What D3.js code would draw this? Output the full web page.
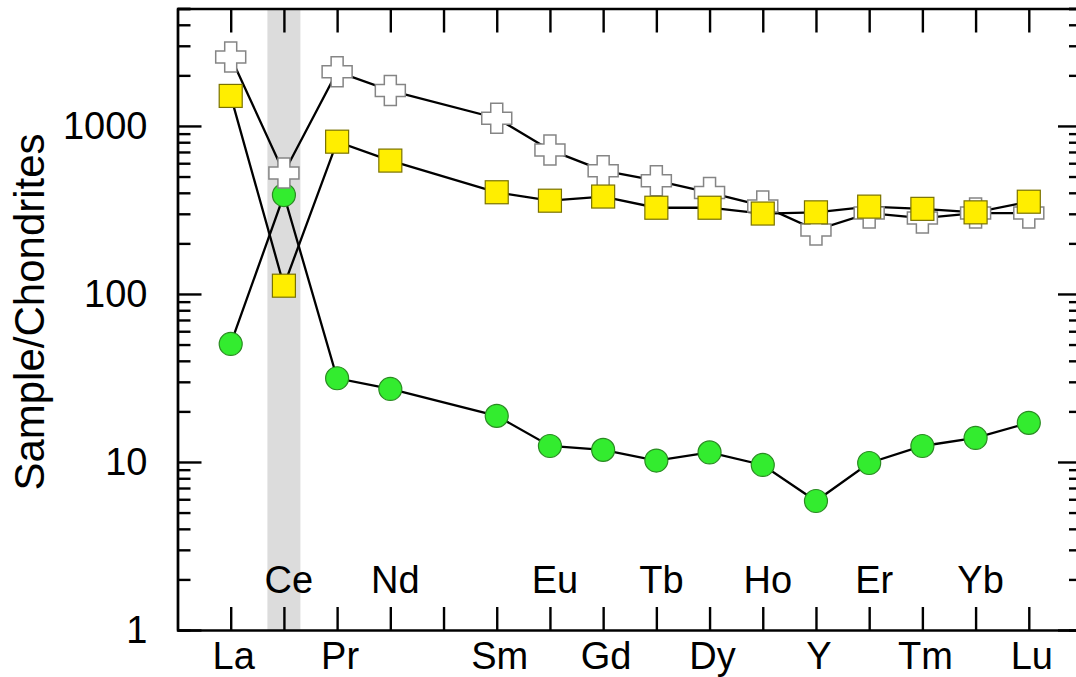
<!DOCTYPE html>
<html>
<head>
<meta charset="utf-8">
<script src="https://cdn.jsdelivr.net/npm/d3@7"></script>
<style>
  body { margin: 0; background: #fff; }
  svg { display: block; font-family: "Liberation Sans", Arial, Helvetica, sans-serif; }
</style>
</head>
<body>
<svg width="1076" height="677"></svg>
<script>
// x slots (Pm has a tick but no label and no data)
var slots = ["La", "Ce", "Pr", "Nd", "Pm", "Sm", "Eu", "Gd", "Tb", "Dy", "Ho", "Y", "Er", "Tm", "Yb", "Lu"];
var elements = ["La", "Ce", "Pr", "Nd", "Sm", "Eu", "Gd", "Tb", "Dy", "Ho", "Y", "Er", "Tm", "Yb", "Lu"];
// labels under the axis / inside above the axis
var lowLabels = ["La", "Pr", "Sm", "Gd", "Dy", "Y", "Tm", "Lu"];
var highLabels = ["Ce", "Nd", "Eu", "Tb", "Ho", "Er", "Yb"];
var shaded = "Ce";

// series
var crossVals = [2575, 525, 2105, 1623, 1111, 720, 542, 472, 401, 334, 240, 303, 283, 303, 303];
var squareVals = [1509, 112, 806, 622, 403, 359, 380, 326, 326, 301, 306, 331, 321, 306, 354];
var circleVals = [50.4, 388, 31.5, 27.2, 18.8, 12.45, 11.8, 10.2, 11.4, 9.6, 5.86, 9.86, 12.45, 13.9, 17.1];

var yMajor = [1, 10, 100, 1000];
var yLabel = "Sample/Chondrites";

/* ---------------- setup ---------------- */
var svg = d3.select("svg");
var pLeft = 177.5, pRight = 1082, pTop = 8.5, pBottom = 630;

var x = d3.scalePoint().domain(slots).range([pLeft, pRight]).padding(1);
var y = d3.scaleLog().domain([1, 5000]).range([pBottom, pTop]);

// minor ticks 2..9 per decade
var yMinor = [];
for (var d = 1; d < 5000; d *= 10)
  for (var m = 2; m <= 9; m++)
    if (d * m <= 5000) yMinor.push(d * m);

// grey band behind Ce
svg.append("rect")
  .attr("x", x(shaded) - 16.5).attr("y", pTop)
  .attr("width", 33).attr("height", pBottom - pTop)
  .attr("fill", "#dcdcdc");

/* ---------------- axes ---------------- */
const styleAxis = function(g){
  g.selectAll("path,line").attr("stroke", "#000").attr("stroke-width", 2.4);
  g.selectAll("text").attr("fill", "#000").attr("font-size", 38)
   .attr("font-family", "'Liberation Sans', Arial, Helvetica, sans-serif");
};

svg.append("g").attr("transform", "translate(" + pLeft + ",0)")
  .call(d3.axisLeft(y).tickValues(yMinor).tickSize(-13).tickFormat(""))
  .call(styleAxis);
svg.append("g").attr("transform", "translate(" + pLeft + ",0)")
  .call(d3.axisLeft(y).tickValues(yMajor).tickSizeInner(-24).tickSizeOuter(0)
        .tickPadding(30).tickFormat(d3.format("d")))
  .call(styleAxis);
svg.append("g").attr("transform", "translate(" + pRight + ",0)")
  .call(d3.axisRight(y).tickValues(yMinor).tickSize(-13).tickFormat(""))
  .call(styleAxis);
svg.append("g").attr("transform", "translate(" + pRight + ",0)")
  .call(d3.axisRight(y).tickValues(yMajor).tickSizeInner(-24).tickSizeOuter(0).tickFormat(""))
  .call(styleAxis);
svg.append("g").attr("transform", "translate(0," + pTop + ")")
  .call(d3.axisTop(x).tickSizeInner(-24).tickSizeOuter(0).tickFormat(""))
  .call(styleAxis);
svg.append("g").attr("transform", "translate(0," + pBottom + ")")
  .call(d3.axisBottom(x).tickSizeInner(-23).tickSizeOuter(0).tickFormat(""))
  .call(styleAxis);

// element labels, alternating
svg.selectAll("text.low").data(lowLabels).enter().append("text")
  .attr("class", "low")
  .attr("x", function(d){ return x(d) + 3; }).attr("y", 669)
  .attr("text-anchor", "middle").attr("font-size", 38)
  .text(function(d){ return d; });
svg.selectAll("text.high").data(highLabels).enter().append("text")
  .attr("class", "high")
  .attr("x", function(d){ return x(d) + 5; }).attr("y", 593)
  .attr("text-anchor", "middle").attr("font-size", 38)
  .text(function(d){ return d; });

// y title
svg.append("text")
  .attr("transform", "translate(44,312) rotate(-90)")
  .attr("text-anchor", "middle").attr("font-size", 42)
  .text(yLabel);

/* ---------------- series ---------------- */
const pts = function(vals){
  return vals.map(function(v, i){ return [x(elements[i]), y(v)]; });
};
var line = d3.line();

[circleVals, crossVals, squareVals].forEach(function(vals){
  svg.append("path")
    .attr("d", line(pts(vals)))
    .attr("fill", "none").attr("stroke", "#000").attr("stroke-width", 2.3);
});

// circles
svg.selectAll("circle.c").data(pts(circleVals)).enter().append("circle")
  .attr("class", "c")
  .attr("cx", function(d){ return d[0]; }).attr("cy", function(d){ return d[1]; })
  .attr("r", 11.5)
  .attr("fill", "#33ec2f").attr("stroke", "#2a8a22").attr("stroke-width", 1.2);

// crosses
var cs = 15, ca = 6;
var crossPath = "M" + (-ca) + "," + (-cs) + "H" + ca + "V" + (-ca) + "H" + cs + "V" + ca +
  "H" + ca + "V" + cs + "H" + (-ca) + "V" + ca + "H" + (-cs) + "V" + (-ca) + "H" + (-ca) + "Z";
svg.selectAll("path.x").data(pts(crossVals)).enter().append("path")
  .attr("class", "x")
  .attr("transform", function(d){ return "translate(" + d[0] + "," + d[1] + ")"; })
  .attr("d", crossPath)
  .attr("fill", "#fff").attr("stroke", "#858585").attr("stroke-width", 1.5);

// squares
svg.selectAll("rect.s").data(pts(squareVals)).enter().append("rect")
  .attr("class", "s")
  .attr("x", function(d){ return d[0] - 11.5; }).attr("y", function(d){ return d[1] - 11.5; })
  .attr("width", 23).attr("height", 23)
  .attr("fill", "#ffee00").attr("stroke", "#7a7200").attr("stroke-width", 1.2);
</script>
</body>
</html>
